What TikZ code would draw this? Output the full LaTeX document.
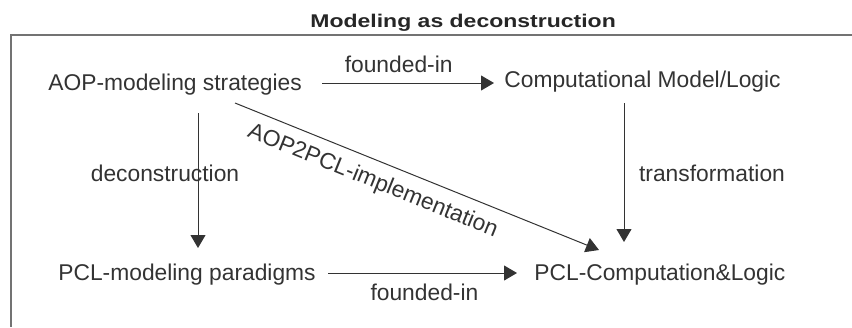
\documentclass[tikz,border=0pt]{standalone}
\usepackage{fontspec}
\setmainfont{Liberation Sans}
\usetikzlibrary{arrows.meta}

\begin{document}
\begin{tikzpicture}[
				x=0.5pt,y=-0.5pt,
				font=\fontsize{11.4}{13}\selectfont,
				>={Triangle[length=6.5pt,width=7.5pt]}]
			\tikzstyle{concept}=[inner sep=0,anchor=base west,text=black!80]
			\tikzstyle{link}=[->,draw=black!80,line width=0.5pt]
			\tikzstyle{link label}=[inner sep=0,text=black!80]
			\useasboundingbox (0,0) rectangle (852,327);
			% frame and title
			\draw[black!55,line width=0.7pt] (852,35) -- (11,35) -- (11,327);
			\node[anchor=base west,inner sep=0,text=black!85,
				font=\bfseries\fontsize{9.2}{11}\selectfont] (title) at (310,27) {\scalebox{1.25}[1]{Modeling as deconstruction}};
			% the four corners
			\node[concept] (aop) at (48,90) {AOP-modeling strategies};
			\node[concept] (cml) at (504,87) {Computational Model/Logic};
			\node[concept] (pclm) at (58,280) {PCL-modeling paradigms};
			\node[concept] (pclc) at (534,280) {PCL-Computation\&Logic};
			% connectors
			\draw[link] ([shift={(20,-7)}]aop.base east) -- ([shift={(-10,-4)}]cml.base west)
				node[link label,pos=0.445,above=5pt]{founded-in};
			\draw[link] ([shift={(12,-7)}]pclm.base east) -- ([shift={(-17,-7)}]pclc.base west)
				node[link label,pos=0.51,below=5pt]{founded-in};
			\draw[link] ([shift={(150,23)}]aop.base west) -- ([shift={(140,-32)}]pclm.base west)
				node[link label,pos=0.45,xshift=-16.5pt]{deconstruction};
			\draw[link] ([shift={(120,16)}]cml.base west) -- ([shift={(90,-38)}]pclc.base west)
				node[link label,pos=0.507,xshift=44pt]{transformation};
			\draw[link] ([shift={(187,13)}]aop.base west) -- ([shift={(65,-30)}]pclc.base west)
				node[link label,pos=0.4,sloped,below=5pt]{AOP2PCL-implementation};
		\end{tikzpicture}
\end{document}
